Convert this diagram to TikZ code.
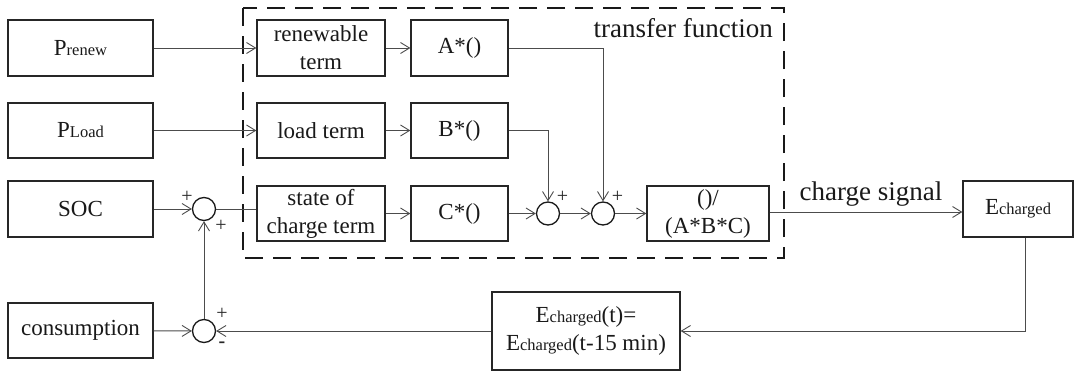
\documentclass[tikz,border=0pt]{standalone}
\usepackage{fontspec}
\setmainfont{Liberation Serif}
\usetikzlibrary{arrows.meta,calc}
\newcommand\smsub[1]{{\fontsize{16.5}{18}\selectfont #1}}
\begin{document}
\begin{tikzpicture}[x=1pt,y=-1pt,
  blk/.style={draw=black!85,line width=1.3pt,inner sep=0pt,align=center,
    font=\fontsize{23}{28}\selectfont,text=black!90},
  sumc/.style={circle,draw=black!90,line width=1.3pt,minimum size=23pt,inner sep=0pt},
  conn/.style={draw=black!70,line width=0.9pt},
  arr/.style={conn,-{Straight Barb[length=9pt,width=11pt,line width=0.9pt]}},
  sign/.style={font=\fontsize{20}{20}\selectfont,inner sep=0pt,text=black!85},
  frame/.style={draw=black!90,line width=1.5pt,dash pattern=on 18pt off 10pt},
  biglbl/.style={font=\fontsize{27}{30}\selectfont,inner sep=0pt,text=black!90}
]
\useasboundingbox (0,0) rectangle (1075,372);
% transfer function frame
\draw[frame] (243,8) rectangle (784,258);
\node[biglbl,anchor=base east] (tf) at (773,37) {transfer function};
% input boxes
\node[blk,minimum width=145pt,minimum height=56pt] (prenew) at (80.5,48) {P\smsub{renew}};
\node[blk,minimum width=145pt,minimum height=55pt] (pload) at (80.5,130.5) {P\smsub{Load}};
\node[blk,minimum width=145pt,minimum height=56pt] (soc) at (80.5,209) {SOC};
\node[blk,minimum width=145pt,minimum height=55pt] (cons) at (80.5,330.5) {consumption};
% term boxes
\node[blk,minimum width=128pt,minimum height=56pt] (ren) at (321,48) {renewable\\term};
\node[blk,minimum width=128pt,minimum height=55pt] (loadt) at (321,130.5) {load term};
\node[blk,minimum width=128pt,minimum height=55pt] (soct) at (321,213.5) {state of\\charge term};
% coefficient boxes
\node[blk,minimum width=97pt,minimum height=56pt] (Aa) at (459.5,48) {A*()};
\node[blk,minimum width=97pt,minimum height=55pt] (Bb) at (459.5,130.5) {B*()};
\node[blk,minimum width=97pt,minimum height=55pt] (Cc) at (459.5,213.5) {C*()};
\node[blk,minimum width=122pt,minimum height=55pt] (div) at (708,213.5) {()/\\(A*B*C)};
% output boxes
\node[blk,minimum width=110pt,minimum height=56pt] (ech) at (1018,209) {E\smsub{charged}};
\node[blk,minimum width=188pt,minimum height=78pt] (fb) at (586,331) {E\smsub{charged}(t)=\\E\smsub{charged}(t-15 min)};
% summing junctions
\node[sumc] (s1) at (204,209) {};
\node[sumc] (s2) at (548,213.5) {};
\node[sumc] (s3) at (603,213.5) {};
\node[sumc] (s4) at (204,331) {};
% signs
\node[sign] (p1a) at (187,197) {+};
\node[sign] (p1b) at (221,226) {+};
\node[sign] (p2) at (562.5,197) {+};
\node[sign] (p3) at (617.5,197) {+};
\node[sign] (p4) at (222,314) {+};
\node[sign,font=\fontsize{20}{20}\selectfont\bfseries] (m4) at (222,345) {-};
% connectors
\draw[arr] (prenew) -- (ren);
\draw[arr] (pload) -- (loadt);
\draw[arr] (soc) -- (s1);
\draw[conn] (s1.east) -- (s1.east -| soct.west);
\draw[arr] (ren) -- (Aa);
\draw[arr] (loadt) -- (Bb);
\draw[arr] (soct) -- (Cc);
\draw[arr] (Cc) -- (s2);
\draw[arr] (s2) -- (s3);
\draw[arr] (s3) -- (div);
\draw[arr] (Bb.east) -| (s2.north);
\draw[arr] (Aa.east) -| (s3.north);
\coordinate (csy) at (0,212);
\draw[arr] (div.east |- csy) -- (ech.west |- csy);
\node[biglbl,anchor=base] (cs) at (871,200) {charge signal};
\draw[arr] ([xshift=7pt]ech.south) |- (fb.east);
\draw[arr] (fb.west) -- (s4.east);
\draw[arr] (cons) -- (s4);
\draw[arr] (s4) -- (s1);
\end{tikzpicture}
\end{document}
